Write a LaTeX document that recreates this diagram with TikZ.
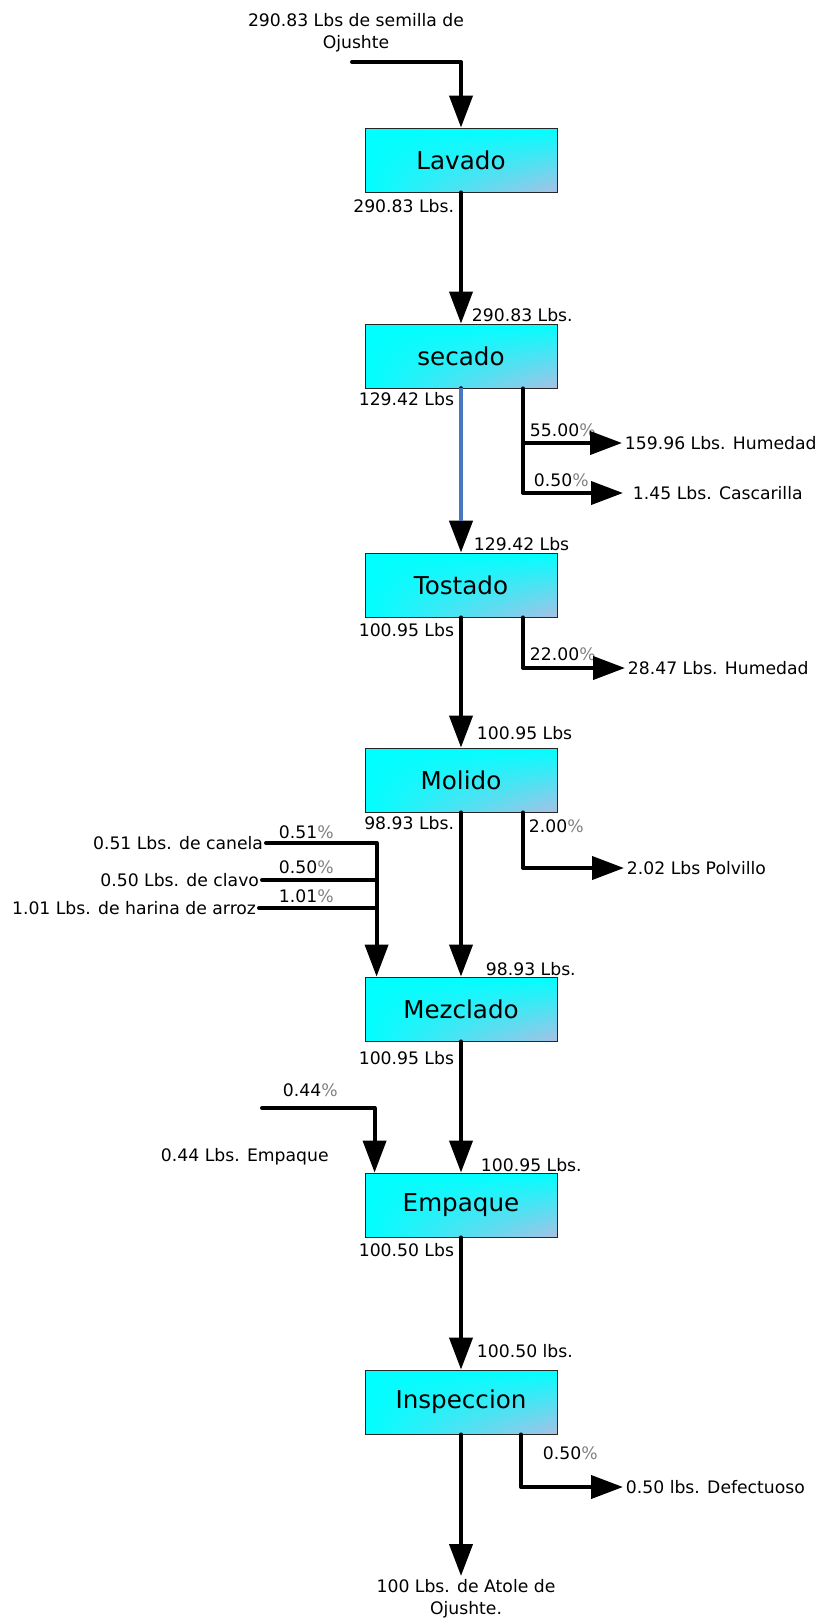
\documentclass[tikz,border=0pt]{standalone}
\usepackage{fontspec}
\setmainfont{DejaVu Sans}
\usepackage{xcolor}
\definecolor{boxcyan}{RGB}{0,255,255}
\definecolor{boxlav}{RGB}{168,192,228}
\definecolor{flowblue}{RGB}{72,118,192}
\usepackage{tikz}
\usetikzlibrary{arrows.meta,shadings}

\newcommand{\pcnt}[1]{#1{\color{gray}\%}}

\begin{document}
\begin{tikzpicture}[x=0.02cm, y=-0.02cm,
  procbox/.style={draw=black!85, line width=0.5pt, shade,
    upper left=boxcyan, upper right=boxcyan, lower left=boxcyan, lower right=boxlav,
    minimum width=3.84cm, minimum height=1.28cm, inner sep=0pt,
    font=\fontsize{14}{16}\selectfont},
  lbl/.style={inner sep=1.5pt, font=\fontsize{9.8}{12.5}\selectfont},
  flow/.style={line width=0.08cm, line cap=round, line join=round,
    -{Triangle[length=0.64cm, width=0.46cm]}},
  feed/.style={line width=0.08cm, line cap=round}]

\useasboundingbox (0,0) rectangle (816,1620);

% process steps
\node[procbox] (lav) at (461,160)  {Lavado};
\node[procbox] (sec) at (461,356)  {secado};
\node[procbox] (tos) at (461,585)  {Tostado};
\node[procbox] (mol) at (461,780)  {Molido};
\node[procbox] (mez) at (461,1009) {Mezclado};
\node[procbox] (emp) at (461,1205) {Empaque};
\node[procbox] (ins) at (461,1402) {Inspeccion};

% weights in and out of each step
\node[lbl, align=center] (seed) at (356,33) {290.83 Lbs de semilla de\\Ojushte};
\node[lbl, anchor=east] (lavout) at (457,206)  {290.83 Lbs.};
\node[lbl, anchor=west] (secin)  at (469,315)  {290.83 Lbs.};
\node[lbl, anchor=east] (secout) at (457,399)  {129.42 Lbs};
\node[lbl, anchor=west] (tosin)  at (471,544)  {129.42 Lbs};
\node[lbl, anchor=east] (tosout) at (457,630)  {100.95 Lbs};
\node[lbl, anchor=west] (molin)  at (474,733)  {100.95 Lbs};
\node[lbl, anchor=east] (molout) at (457,823)  {98.93 Lbs.};
\node[lbl, anchor=west] (mezin)  at (483,969)  {98.93 Lbs.};
\node[lbl, anchor=east] (mezout) at (457,1058) {100.95 Lbs};
\node[lbl, anchor=west] (empin)  at (478,1165) {100.95 Lbs.};
\node[lbl, anchor=east] (empout) at (457,1250) {100.50 Lbs};
\node[lbl, anchor=west] (insin)  at (474,1351) {100.50 lbs.};
\node[lbl, anchor=north, align=center] (atole) at (466,1576) {100 Lbs. de Atole de\\Ojushte.};

% losses
\node[lbl, anchor=west] (hum1) at (622,443)  {159.96 Lbs. Humedad};
\node[lbl, anchor=west] (casc) at (630,493)  {1.45 Lbs. Cascarilla};
\node[lbl, anchor=west] (hum2) at (625,668)  {28.47 Lbs. Humedad};
\node[lbl, anchor=west] (polv) at (624,868)  {2.02 Lbs Polvillo};
\node[lbl, anchor=west] (defe) at (623,1487) {0.50 lbs. Defectuoso};

\node[lbl, anchor=west] (p55) at (527,430)  {\pcnt{55.00}};
\node[lbl, anchor=west] (p05) at (531,480)  {\pcnt{0.50}};
\node[lbl, anchor=west] (p22) at (527,654)  {\pcnt{22.00}};
\node[lbl, anchor=west] (p02) at (526,826)  {\pcnt{2.00}};
\node[lbl, anchor=west] (p05i) at (540,1453) {\pcnt{0.50}};

% additions
\node[lbl, anchor=east] (canela) at (266,843) {0.51 Lbs. de canela};
\node[lbl, anchor=east] (clavo)  at (262,880) {0.50 Lbs. de clavo};
\node[lbl, anchor=east] (arroz)  at (259,908) {1.01 Lbs. de harina de arroz};
\node[lbl, anchor=west] (p51)  at (276,832) {\pcnt{0.51}};
\node[lbl, anchor=west] (p50)  at (276,867) {\pcnt{0.50}};
\node[lbl, anchor=west] (p101) at (276,896) {\pcnt{1.01}};

\node[lbl, anchor=west] (bag) at (158,1157) {0.44 Lbs. Empaque};
\node[lbl, anchor=west] (p44) at (280,1090) {\pcnt{0.44}};

% main line
\coordinate (seedin) at (352,62);
\draw[flow] (seedin) -| (lav.north);
\draw[flow] (lav.south) -- (sec.north);
\draw[flow, line width=0.09cm] (sec.south) -- (tos.north);
\draw[flowblue, line width=0.065cm, shorten >=0.64cm] (sec.south) -- (tos.north);
\draw[flow] (tos.south) -- (mol.north);
\draw[flow] (mol.south) -- (mez.north);
\draw[flow] (mez.south) -- (emp.north);
\draw[flow] (emp.south) -- (ins.north);
\draw[flow] (ins.south) -- (ins.south |- atole.north);

% side streams
\coordinate (secb) at ([xshift=1.24cm]sec.south);
\draw[flow] (secb) |- ([xshift=-0.14cm]casc.west);
\draw[flow] (secb |- hum1.west) -- (hum1.west);
\draw[flow] ([xshift=1.24cm]tos.south) |- (hum2.west);
\draw[flow] ([xshift=1.24cm]mol.south) |- (polv.west);
\draw[flow] ([xshift=1.2cm]ins.south) |- (defe.west);

% spices into the mixer
\coordinate (mzin) at ([xshift=0.24cm]mez.north west);
\draw[flow] (canela.east) -| (mzin);
\draw[feed] (clavo.east) -- (clavo.east -| mzin);
\draw[feed] (arroz.east) -- (arroz.east -| mzin);

% packaging material
\coordinate (bagin) at (262,1108);
\coordinate (epin) at ([xshift=0.2cm]emp.north west);
\draw[flow] (bagin) -| (epin);

\end{tikzpicture}
\end{document}
